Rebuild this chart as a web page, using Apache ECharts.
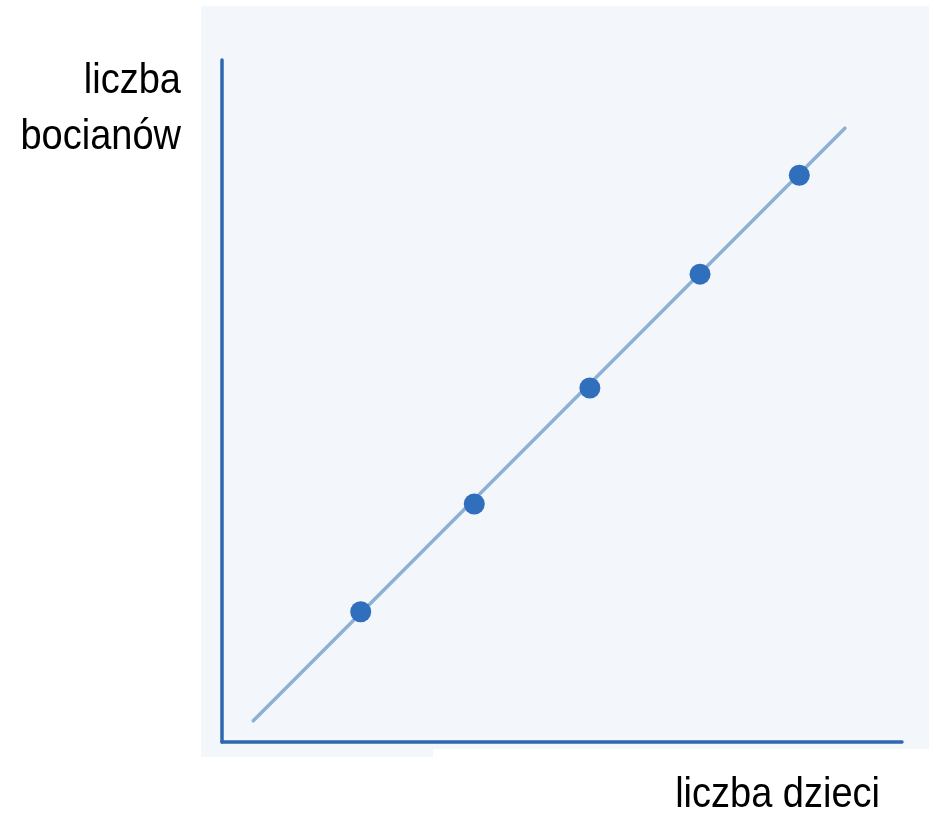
<!DOCTYPE html>
<html>
<head>
<meta charset="utf-8">
<script src="https://cdn.jsdelivr.net/npm/echarts@6/dist/echarts.min.js"></script>
<style>
  html, body { margin: 0; padding: 0; background: #ffffff; }
  #chart { width: 929px; height: 813px; }
</style>
</head>
<body>
<div id="chart"></div>
<script>
// data (axis units 0..100, no ticks shown)
const pointsX = [20.4, 37.1, 54.1, 70.3, 84.9]
const pointsY = [19.1, 34.9, 51.9, 68.6, 83.1]
const trendX = [4.6, 91.6]
const trendY = [3.1, 90.0]

const yTitle = 'liczba\nbocianów'
const xTitle = 'liczba dzieci'

const axisColor = '#2e67ae'
const trendColor = '#8cb1d5'
const dotColor = '#2f6fbb'
const font = '"Liberation Sans", Arial, sans-serif'

const chart = echarts.init(document.getElementById('chart'))

chart.setOption({
  animation: false,
  backgroundColor: '#ffffff',
  grid: { left: 222, right: 27, top: 60, bottom: 71, containLabel: false },
  xAxis: {
    type: 'value',
    min: 0,
    max: 100,
    axisLine: { show: true, lineStyle: { color: axisColor, width: 3.5, cap: 'round' } },
    axisTick: { show: false },
    axisLabel: { show: false },
    splitLine: { show: false },
  },
  yAxis: {
    type: 'value',
    min: 0,
    max: 100,
    axisLine: { show: true, lineStyle: { color: axisColor, width: 3.5, cap: 'round' } },
    axisTick: { show: false },
    axisLabel: { show: false },
    splitLine: { show: false },
  },
  graphic: [
    {
      type: 'rect',
      z: -10,
      silent: true,
      shape: { x: 201, y: 6, width: 728, height: 743 },
      style: { fill: '#f3f6fa' },
    },
    {
      type: 'rect',
      z: -10,
      silent: true,
      shape: { x: 201, y: 748, width: 232, height: 9 },
      style: { fill: '#f3f6fa' },
    },
    {
      // titles are a bit taller than plain Liberation Sans, so stretch them
      type: 'text',
      x: 181,
      y: 53,
      scaleY: 1.1,
      style: {
        x: 0,
        y: 0,
        text: yTitle,
        font: '38px ' + font,
        lineHeight: 51,
        fill: '#000000',
        align: 'right',
        verticalAlign: 'top',
      },
    },
    {
      type: 'text',
      x: 880,
      y: 775,
      scaleY: 1.1,
      style: {
        x: 0,
        y: 0,
        text: xTitle,
        font: '38px ' + font,
        fill: '#000000',
        align: 'right',
        verticalAlign: 'top',
      },
    },
  ],
  series: [
    {
      type: 'line',
      data: trendX.map((x, i) => [x, trendY[i]]),
      symbol: 'none',
      lineStyle: { color: trendColor, width: 3.5, cap: 'round' },
      z: 2,
    },
    {
      type: 'scatter',
      data: pointsX.map((x, i) => [x, pointsY[i]]),
      symbol: 'circle',
      symbolSize: 21,
      itemStyle: { color: dotColor, opacity: 1 },
      z: 3,
    },
  ],
})
</script>
</body>
</html>
